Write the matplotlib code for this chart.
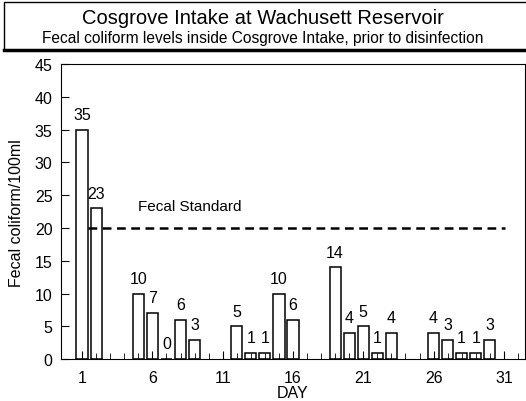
import matplotlib.pyplot as plt
from matplotlib.patches import Rectangle

plt.rcParams["font.family"] = ["Liberation Sans", "DejaVu Sans"]

days = [1, 2, 5, 6, 7, 8, 9, 12, 13, 14, 15, 16, 19, 20, 21, 22, 23, 26, 27, 28, 29, 30]
counts = [35, 23, 10, 7, 0, 6, 3, 5, 1, 1, 10, 6, 14, 4, 5, 1, 4, 4, 3, 1, 1, 3]
day_ticks = [1, 6, 11, 16, 21, 26, 31]
fecal_standard = 20

fig = plt.figure(figsize=(5.26, 4.02), dpi=100)
ax = fig.add_axes([0.116, 0.104, 0.882, 0.734])

ax.bar(days, counts, width=0.8, color="white", edgecolor="black", linewidth=1.1)
for d, c in zip(days, counts):
    ax.text(d, c + 1.2, str(c), ha="center", va="bottom", fontsize=11.5)

# fecal standard line
ax.plot([1.4, 31.1], [fecal_standard, fecal_standard], color="black",
        linestyle=(0, (3.5, 2.2)), linewidth=1.8)
ax.text(5.0, fecal_standard + 3.3, "Fecal Standard", ha="left", va="center", fontsize=11)

ax.set_xlim(-0.5, 32.5)
ax.set_ylim(0, 45)
ax.set_xticks(day_ticks)
ax.set_xticks(range(1, 33), minor=True)
ax.set_yticks(range(0, 46, 5))
ax.tick_params(axis="both", which="major", direction="in", length=6, labelsize=11.5)
ax.tick_params(axis="x", which="minor", direction="in", length=4)
ax.tick_params(axis="x", which="major", pad=8)
ax.tick_params(axis="y", which="major", pad=6)
ax.set_xlabel("DAY", fontsize=11.5, labelpad=0)
ax.set_ylabel("Fecal coliform/100ml", fontsize=11.5, labelpad=8)

# title box
fig.patches.append(Rectangle((4 / 526, 1 - 51 / 402), 1.0, 48 / 402, transform=fig.transFigure,
                             facecolor="white", edgecolor="black", linewidth=1))
fig.lines.append(plt.Line2D([4 / 526, 1.0], [1 - 51 / 402, 1 - 51 / 402], transform=fig.transFigure,
                            color="black", linewidth=2.5))
fig.text(0.5, 1 - 18 / 402, "Cosgrove Intake at Wachusett Reservoir", ha="center", va="center",
         fontsize=14.5)
fig.text(0.5, 1 - 38 / 402, "Fecal coliform levels inside Cosgrove Intake, prior to disinfection",
         ha="center", va="center", fontsize=11.2)

fig.savefig("out.png", dpi=100)
